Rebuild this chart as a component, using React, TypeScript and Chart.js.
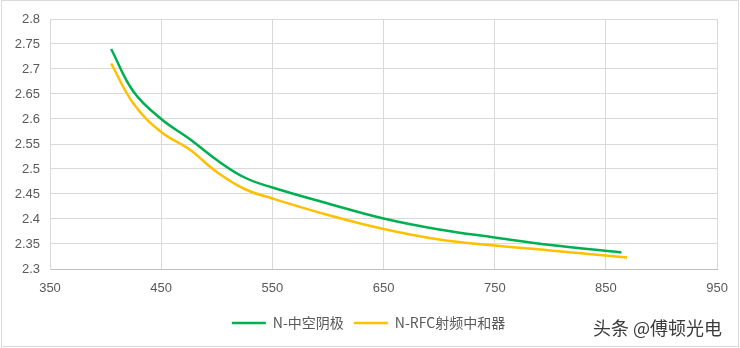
import React, { useEffect, useRef } from "react";
import { Chart, registerables } from "chart.js";

Chart.register(...registerables);

const seriesNames = ["N-中空阴极", "N-RFC射频中和器"];
const greenX = [405, 425, 450, 475, 500, 525, 550, 600, 650, 700, 750, 800, 864];
const greenY = [2.74, 2.655, 2.6, 2.561, 2.518, 2.483, 2.463, 2.431, 2.401, 2.379, 2.363, 2.348, 2.333];
const yellowX = [405, 425, 450, 475, 500, 525, 550, 600, 650, 700, 750, 800, 869];
const yellowY = [2.711, 2.631, 2.574, 2.54, 2.494, 2.46, 2.441, 2.408, 2.38, 2.359, 2.347, 2.337, 2.323];
const watermark = "头条 @傅顿光电";

const frame = {
  id: "frame",
  afterDraw(chart: any) {
    const ctx = chart.ctx;
    ctx.save();
    ctx.strokeStyle = "#D9D9D9";
    ctx.lineWidth = 1;
    ctx.strokeRect(1.5, 0.5, 737, 346);
    ctx.font = '18px "Noto Sans CJK SC"';
    ctx.fillStyle = "#3a3a3a";
    ctx.textBaseline = "middle";
    ctx.textAlign = "left";
    ctx.fillText(watermark, 593, 328);
    ctx.restore();
  },
};

export default function App() {
  const ref = useRef<HTMLCanvasElement>(null);
  useEffect(() => {
    document.body.style.margin = "0";
    const tickFont = { family: '"Liberation Sans", "Noto Sans CJK SC"', size: 13 };
    const chart = new Chart(ref.current!, {
      type: "line",
      data: {
        datasets: [
          {
            label: seriesNames[0],
            data: greenX.map((x, i) => ({ x, y: greenY[i] })),
            borderColor: "#00B050",
            backgroundColor: "#00B050",
            borderWidth: 2.5,
            pointRadius: 0,
            tension: 0.4,
          },
          {
            label: seriesNames[1],
            data: yellowX.map((x, i) => ({ x, y: yellowY[i] })),
            borderColor: "#FFC000",
            backgroundColor: "#FFC000",
            borderWidth: 2.5,
            pointRadius: 0,
            tension: 0.4,
          },
        ],
      },
      options: {
        animation: false,
        responsive: false,
        layout: { padding: { left: 0, right: 3, top: 19, bottom: 8 } },
        plugins: {
          tooltip: { enabled: false },
          legend: {
            position: "bottom",
            labels: {
              usePointStyle: true,
              pointStyle: "line",
              pointStyleWidth: 34,
              padding: 10,
              color: "#595959",
              font: { family: '"Noto Sans CJK SC"', size: 14 },
            },
          },
        },
        scales: {
          x: {
            type: "linear",
            min: 350,
            max: 950,
            ticks: { stepSize: 100, padding: 12, color: "#595959", font: tickFont },
            grid: { color: "#D9D9D9", drawTicks: false },
            border: { color: "#BFBFBF" },
            afterFit(s: any) {
              s.height = 37;
            },
          },
          y: {
            min: 2.3,
            max: 2.8,
            ticks: {
              stepSize: 0.05,
              padding: 10,
              color: "#595959",
              font: tickFont,
              callback: (v: any) => String(Number(Number(v).toFixed(2))),
            },
            grid: { color: "#D9D9D9", drawTicks: false },
            border: { color: "#D9D9D9" },
            afterFit(s: any) {
              s.width = 50;
            },
          },
          spacer: {
            position: "right",
            min: 0,
            max: 1,
            ticks: { display: false },
            grid: { display: false, drawTicks: false },
            border: { display: false },
            afterFit(s: any) {
              s.width = 18;
            },
          },
        },
      },
      plugins: [frame],
    });
    return () => chart.destroy();
  }, []);
  return <canvas ref={ref} width={740} height={348} style={{ display: "block" }} />;
}
